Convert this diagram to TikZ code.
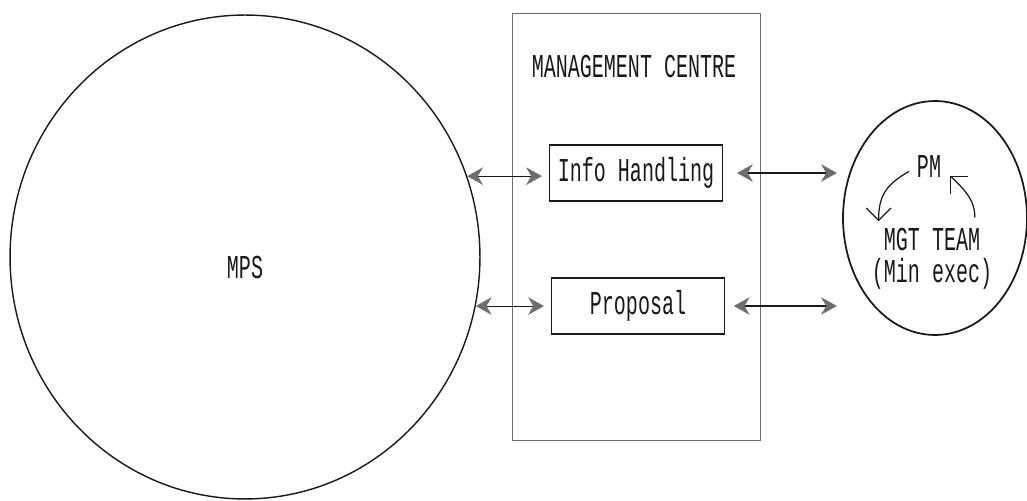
\documentclass[tikz,border=0pt]{standalone}
\usepackage{fontspec}
\newfontfamily\dotfont[FakeStretch=0.6]{Liberation Mono}
\definecolor{ink}{RGB}{25,25,25}
\definecolor{soft}{RGB}{110,110,110}
\usetikzlibrary{arrows.meta,shapes.geometric}

\begin{document}
\begin{tikzpicture}[x=0.02cm, y=0.02cm,
    every node/.style={font=\dotfont\fontsize{19pt}{15pt}\selectfont, text=ink},
    box/.style={draw=ink, line width=0.6pt, minimum width=3.46cm, minimum height=1.12cm},
    link/.style={ink, line width=0.6pt, {Stealth[length=9pt,width=10pt,color=soft]}-{Stealth[length=9pt,width=10pt,color=soft]}},
    turn/.style={ink, line width=0.7pt, -{Straight Barb[length=7pt,width=14pt]}}]
        \useasboundingbox (0,0) rectangle (1027,500);
        \node[ellipse, draw=ink, line width=0.8pt, minimum width=9.4cm, minimum height=9.68cm] (mps) at (245,243) {};
        \node (mpslabel) at (245,232) {MPS};
        \node[draw=soft, line width=0.5pt, minimum width=4.96cm, minimum height=8.54cm] (centre) at (636,273) {};
        \node (centretitle) at (634,433) {MANAGEMENT CENTRE};
        \node[box] (info) at (636,327) {Info Handling};
        \node[box] (prop) at (638,194) {Proposal};
        \node[ellipse, draw=ink, line width=1pt, minimum width=3.68cm, minimum height=4.68cm] (unit) at (935,282) {};
        \node[inner sep=0pt] (pm) at (929,333) {PM};
        \node[inner sep=0pt, align=center] (team) at (932,241) {MGT TEAM\\[3pt](Min exec)};
        \draw[link, shorten >=4pt] (mps.20) -- (mps.20 -| info.west);
        \draw[link, shorten >=4pt] (mps.-12) -- (mps.-12 -| prop.west);
        \draw[link, shorten <=8pt, shorten >=3pt] (info.east) -- (info.east -| unit.west);
        \draw[link, shorten <=5pt, shorten >=3pt] (prop.east) -- (prop.east -| unit.west);
        \draw[turn, shorten <=5pt, shorten >=4pt] (pm.west) to[out=210,in=90,looseness=1.2] ([xshift=4pt]team.north west);
        \draw[turn, shorten <=6pt, shorten >=7pt] ([xshift=-10pt]team.north east) to[out=90,in=-45,looseness=1.1] (pm.east);
\end{tikzpicture}
\end{document}
